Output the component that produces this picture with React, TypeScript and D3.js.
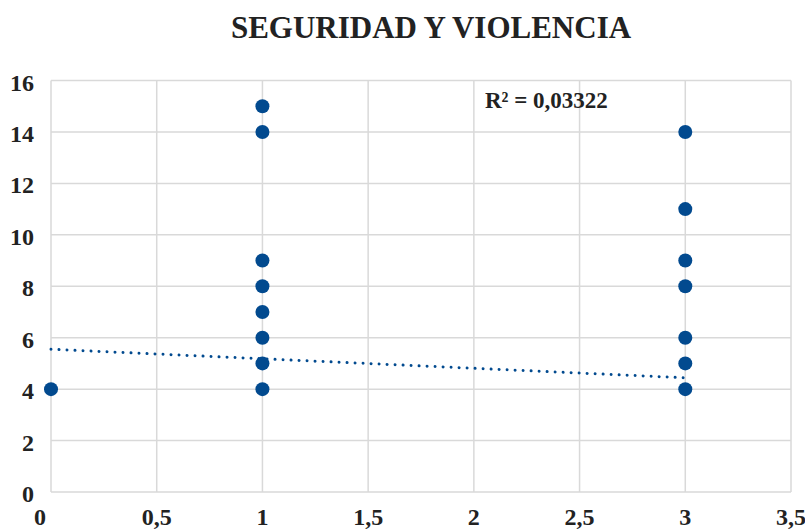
import React from 'react';
import * as d3 from 'd3';

// points (x, y)
const xValues = [0, 1, 1, 1, 1, 1, 1, 1, 1, 3, 3, 3, 3, 3, 3, 3];
const yValues = [4, 4, 5, 6, 7, 8, 9, 14, 15, 4, 5, 6, 8, 9, 11, 14];

const trendIntercept = 5.55;
const trendSlope = -0.37;
const trendRange = [0, 3];
const rSquaredLabel = 'R² = 0,03322';

const xTicks = [0, 0.5, 1, 1.5, 2, 2.5, 3, 3.5];
const yTicks = [0, 2, 4, 6, 8, 10, 12, 14, 16];

const title = 'SEGURIDAD Y VIOLENCIA';

const W = 805;
const H = 529;
const BLUE = '#024a8f';
const GRID = '#d9d9d9';
const FONT = '"Liberation Serif", "Times New Roman", serif';

const fmt = (v: number) => String(v).replace('.', ',');

const App = () => {
  const ref = React.useRef<SVGSVGElement>(null);

  React.useEffect(() => {
    const svg = d3.select(ref.current);
    svg.selectAll('*').remove();

    const x = d3.scaleLinear().domain([0, 3.5]).range([51, 791]);
    const y = d3.scaleLinear().domain([0, 16]).range([492, 80.5]);

    svg.append('rect').attr('width', W).attr('height', H).attr('fill', '#fff');

    // title
    svg.append('text')
      .attr('x', 431)
      .attr('y', 38)
      .attr('text-anchor', 'middle')
      .style('font', `bold 31px ${FONT}`)
      .attr('fill', '#222')
      .text(title);

    // grid
    const grid = svg.append('g').attr('stroke', GRID).attr('stroke-width', 1.5);
    grid.append('g').selectAll('line')
      .data(yTicks)
      .join('line')
      .attr('x1', x(0)).attr('x2', x(3.5))
      .attr('y1', d => y(d)).attr('y2', d => y(d));
    grid.append('g').selectAll('line')
      .data(xTicks)
      .join('line')
      .attr('x1', d => x(d)).attr('x2', d => x(d))
      .attr('y1', y(0)).attr('y2', y(16));

    // axis labels
    svg.append('g')
      .style('font', `bold 24px ${FONT}`)
      .attr('fill', '#222')
      .attr('text-anchor', 'end')
      .selectAll('text')
      .data(yTicks)
      .join('text')
      .attr('x', 34)
      .attr('y', d => y(d) + 10)
      .text(d => fmt(d));

    svg.append('g')
      .style('font', `bold 24px ${FONT}`)
      .attr('fill', '#222')
      .attr('text-anchor', 'middle')
      .selectAll('text')
      .data(xTicks)
      .join('text')
      .attr('x', (d, i) => x(d) - (i === 0 ? 11 : 0))
      .attr('y', 525)
      .text(d => fmt(d));

    // trendline
    const line = d3.line<number>()
      .x(d => x(d))
      .y(d => y(trendIntercept + trendSlope * d));
    svg.append('path')
      .attr('d', line(trendRange))
      .attr('fill', 'none')
      .attr('stroke', BLUE)
      .attr('stroke-width', 3)
      .attr('stroke-linecap', 'round')
      .attr('stroke-dasharray', '0.01 8');

    // points
    svg.append('g')
      .attr('fill', BLUE)
      .selectAll('circle')
      .data(xValues.map((v, i) => [v, yValues[i]]))
      .join('circle')
      .attr('cx', d => x(d[0]))
      .attr('cy', d => y(d[1]))
      .attr('r', 7);

    svg.append('text')
      .attr('x', 485)
      .attr('y', 108)
      .style('font', `bold 23px ${FONT}`)
      .attr('fill', '#222')
      .text(rSquaredLabel);
  }, []);

  return (
    <svg
      ref={ref}
      width={W}
      height={H}
      style={{ display: 'block', position: 'fixed', left: 0, top: 0 }}
    />
  );
};

export default App;
